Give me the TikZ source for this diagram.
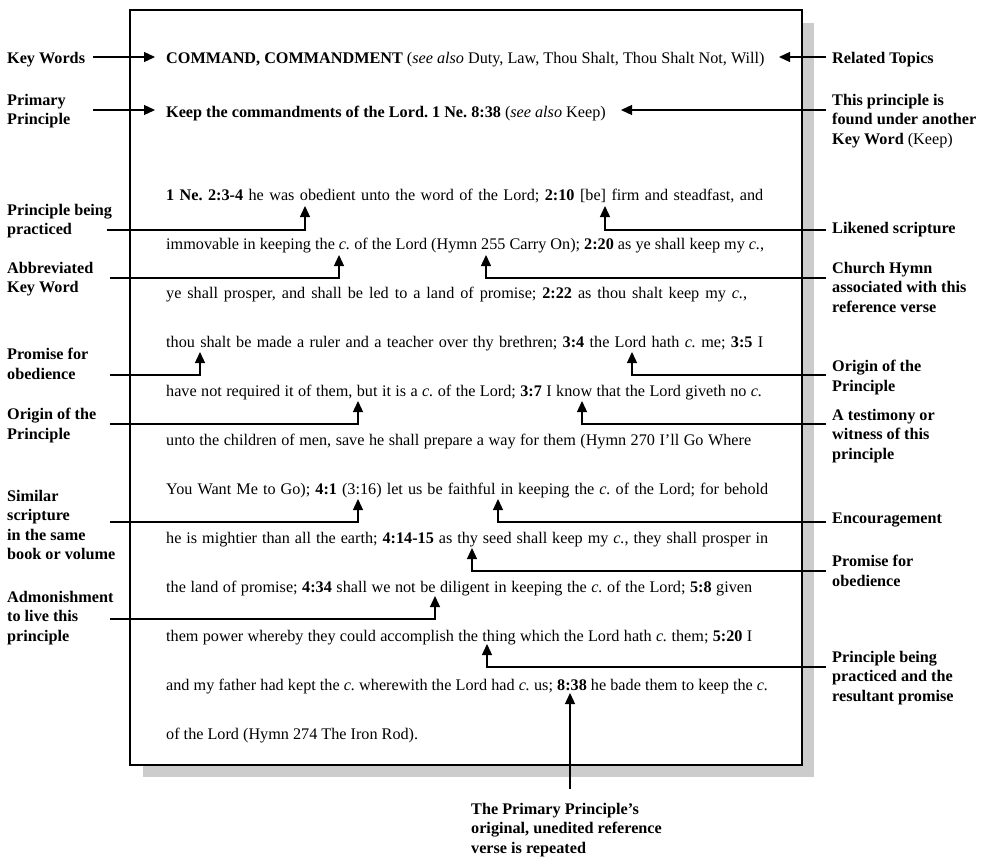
\documentclass[tikz,border=0pt]{standalone}
\usepackage{fontspec}
\setmainfont{Liberation Serif}
\usetikzlibrary{arrows.meta}
\newcommand\jline[2]{\makebox[#1][s]{#2}}
\begin{document}
\frenchspacing
\begin{tikzpicture}[x=1pt,y=-1pt,
  body/.style={anchor=base west,inner sep=0pt,font=\fontsize{16.2}{19.5}\selectfont},
  lbl/.style={anchor=north west,inner sep=0pt,align=left,font=\fontsize{16.2}{19.5}\selectfont\bfseries},
  conn/.style={line width=1.3pt,-{Triangle[width=10pt,length=11pt]}},
  frame/.style={line width=1.2pt,fill=white},
  shadowfill/.style={fill=black!20}]
\useasboundingbox (0,0) rectangle (985,857);
% page shadow and frame
\fill[shadowfill] (143,23) rectangle (814,777);
\draw[frame] (130,10) rectangle (802,765);
% header lines
\node[body] (kw) at (166,63) {\textbf{COMMAND, COMMANDMENT} (\textit{see also} Duty, Law, Thou Shalt, Thou Shalt Not, Will)};
\node[body] (pp) at (166,117) {\textbf{Keep the commandments of the Lord. 1 Ne. 8:38} (\textit{see also} Keep)};
% body lines
\node[body] (l1) at (166,200) {\jline{597pt}{\textbf{1 Ne. 2:3-4} he was obedient unto the word of the Lord; \textbf{2:10} [be] firm and steadfast, and}};
\node[body] (l2) at (166,249) {\jline{598pt}{immovable in keeping the \textit{c.} of the Lord (Hymn 255 Carry On); \textbf{2:20} as ye shall keep my \textit{c.},}};
\node[body] (l3) at (166,298) {\jline{581pt}{ye shall prosper, and shall be led to a land of promise; \textbf{2:22} as thou shalt keep my \textit{c.},}};
\node[body] (l4) at (166,347) {\jline{597pt}{thou shalt be made a ruler and a teacher over thy brethren; \textbf{3:4} the Lord hath \textit{c.} me; \textbf{3:5} I}};
\node[body] (l5) at (166,396) {\jline{596pt}{have not required it of them, but it is a \textit{c.} of the Lord; \textbf{3:7} I know that the Lord giveth no \textit{c.}}};
\node[body] (l6) at (166,445) {\jline{585pt}{unto the children of men, save he shall prepare a way for them (Hymn 270 I’ll Go Where}};
\node[body] (l7) at (166,494) {\jline{602pt}{You Want Me to Go); \textbf{4:1} (3:16) let us be faithful in keeping the \textit{c.} of the Lord; for behold}};
\node[body] (l8) at (166,543) {\jline{602pt}{he is mightier than all the earth; \textbf{4:14-15} as thy seed shall keep my \textit{c.}, they shall prosper in}};
\node[body] (l9) at (166,592) {\jline{586pt}{the land of promise; \textbf{4:34} shall we not be diligent in keeping the \textit{c.} of the Lord; \textbf{5:8} given}};
\node[body] (l10) at (166,641) {\jline{586pt}{them power whereby they could accomplish the thing which the Lord hath \textit{c.} them; \textbf{5:20} I}};
\node[body] (l11) at (166,690) {\jline{602pt}{and my father had kept the \textit{c.} wherewith the Lord had \textit{c.} us; \textbf{8:38} he bade them to keep the \textit{c.}}};
\node[body] (l12) at (166,739) {of the Lord (Hymn 274 The Iron Rod).};
% left labels
\node[lbl] (Lkw) at (7,52) {Key Words};
\node[lbl] (Lpp) at (7,94) {Primary\\Principle};
\node[lbl] (Lpbp) at (7,204) {Principle being\\practiced};
\node[lbl] (Lakw) at (7,262) {Abbreviated\\Key Word};
\node[lbl] (Lpfo) at (7,348) {Promise for\\obedience};
\node[lbl] (Lop) at (7,408) {Origin of the\\Principle};
\node[lbl] (Lss) at (7,490) {Similar\\scripture\\in the same\\book or volume};
\node[lbl] (Ladm) at (7,591) {Admonishment\\to live this\\principle};
% right labels
\node[lbl] (Rrt) at (832,52) {Related Topics};
\node[lbl] (Rfk) at (832,94) {This principle is\\found under another\\Key Word \textmd{(Keep)}};
\node[lbl] (Rls) at (832,222) {Likened scripture};
\node[lbl] (Rch) at (832,262) {Church Hymn\\associated with this\\reference verse};
\node[lbl] (Rop) at (832,360) {Origin of the\\Principle};
\node[lbl] (Rtw) at (832,409) {A testimony or\\witness of this\\principle};
\node[lbl] (Renc) at (832,513) {Encouragement};
\node[lbl] (Rpfo) at (832,555) {Promise for\\obedience};
\node[lbl] (Rpr) at (832,651) {Principle being\\practiced and the\\resultant promise};
\node[lbl] (Bpr) at (471,803) {The Primary Principle’s\\original, unedited reference\\verse is repeated};
% connector end points
\coordinate (a1s) at (93,57);   \coordinate (a1t) at (155,57);
\coordinate (a2s) at (93,110);  \coordinate (a2t) at (155,110);
\coordinate (a3s) at (826,57);  \coordinate (a3t) at (779,57);
\coordinate (a4s) at (826,110); \coordinate (a4t) at (621,110);
\coordinate (b1s) at (107,230); \coordinate (b1t) at (305,206);
\coordinate (b2s) at (110,278); \coordinate (b2t) at (339,255);
\coordinate (b3s) at (110,375); \coordinate (b3t) at (200,352);
\coordinate (b4s) at (110,424); \coordinate (b4t) at (358,401);
\coordinate (b5s) at (110,522); \coordinate (b5t) at (358,499);
\coordinate (b6s) at (110,619); \coordinate (b6t) at (435,596);
\coordinate (c1s) at (826,230); \coordinate (c1t) at (605,206);
\coordinate (c2s) at (826,278); \coordinate (c2t) at (486,255);
\coordinate (c3s) at (826,375); \coordinate (c3t) at (632,352);
\coordinate (c4s) at (826,424); \coordinate (c4t) at (582,401);
\coordinate (c5s) at (826,522); \coordinate (c5t) at (498,499);
\coordinate (c6s) at (826,571); \coordinate (c6t) at (472,548);
\coordinate (c7s) at (826,667); \coordinate (c7t) at (487,644);
\coordinate (d1s) at (570,789); \coordinate (d1t) at (570,693);
% connectors
\draw[conn] (a1s) -- (a1t);
\draw[conn] (a2s) -- (a2t);
\draw[conn] (a3s) -- (a3t);
\draw[conn] (a4s) -- (a4t);
\foreach \c in {b1,b2,b3,b4,b5,b6,c1,c2,c3,c4,c5,c6,c7}{\draw[conn] (\c s) -| (\c t);}
\draw[conn] (d1s) -- (d1t);
\end{tikzpicture}
\end{document}
